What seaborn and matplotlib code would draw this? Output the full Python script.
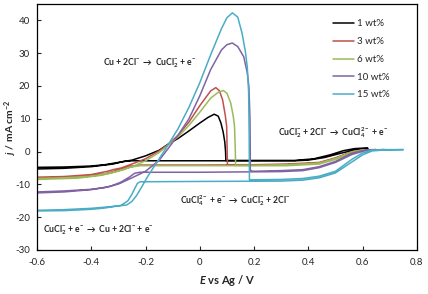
import pandas as pd
import matplotlib.pyplot as plt
import seaborn as sns

### cyclic voltammograms, 5 concentrations
labels = ['1 wt%', '3 wt%', '6 wt%', '10 wt%', '15 wt%']
colors = ['#000000', '#C0504D', '#9BBB59', '#8064A2', '#4BACC6']

# 1 wt%  (forward sweep, then back)
e_1 = [-0.6, -0.5, -0.4, -0.35, -0.3, -0.25, -0.2, -0.15, -0.116, -0.08, -0.04, 0.0, 0.03, 0.053,
       0.068, 0.078, 0.086, 0.092, 0.095, 0.096, 0.2, 0.35, 0.42, 0.48, 0.53, 0.57, 0.61,
       0.62, 0.57, 0.52, 0.46, 0.40, 0.35, 0.0, -0.25, -0.28, -0.32, -0.4, -0.5, -0.6]
j_1 = [-4.8, -4.7, -4.4, -4.0, -3.3, -2.6, -1.3, 0.4, 2.3, 4.0, 6.3, 8.7, 10.4, 11.4,
       10.8, 8.7, 6.0, 3.0, 0.0, -2.7, -2.7, -2.7, -2.2, -1.0, 0.3, 0.9, 1.1,
       1.0, 0.5, -0.5, -1.8, -2.6, -2.8, -2.8, -2.8, -3.0, -3.8, -4.6, -5.1, -5.3]

# 3 wt%
e_3 = [-0.6, -0.5, -0.4, -0.34, -0.32, -0.29, -0.25, -0.2, -0.15, -0.116, -0.08, -0.04, 0.0, 0.04,
       0.059, 0.072, 0.084, 0.094, 0.099, 0.101, 0.102, 0.2, 0.32, 0.44, 0.50, 0.56, 0.6, 0.65,
       0.6, 0.56, 0.5, 0.44, 0.32, 0.0, -0.22, -0.26, -0.3, -0.35, -0.45, -0.6]
j_3 = [-7.8, -7.6, -7.0, -6.0, -5.5, -5.0, -3.8, -2.2, 0.2, 2.2, 5.0, 9.0, 14.0, 18.5,
       19.5, 18.6, 15.8, 11.0, 7.7, 0.0, -4.0, -4.0, -3.8, -3.3, -1.9, 0.0, 0.5, 0.6,
       0.4, -0.2, -2.1, -3.5, -4.0, -4.1, -4.1, -4.5, -5.6, -6.8, -7.7, -8.1]

# 6 wt%
e_6 = [-0.6, -0.5, -0.4, -0.33, -0.28, -0.24, -0.2, -0.15, -0.116, -0.08, -0.04, 0.0, 0.04, 0.07,
       0.087, 0.1, 0.114, 0.123, 0.128, 0.131, 0.132, 0.2, 0.32, 0.44, 0.50, 0.56, 0.6, 0.65,
       0.6, 0.56, 0.5, 0.44, 0.32, 0.0, -0.22, -0.26, -0.3, -0.36, -0.45, -0.6]
j_6 = [-8.2, -8.0, -7.5, -6.6, -5.5, -4.3, -2.8, -0.3, 2.0, 4.5, 8.0, 12.0, 16.3, 18.2,
       18.6, 17.8, 14.8, 11.0, 7.7, 0.0, -4.2, -4.2, -4.0, -3.5, -2.1, -0.1, 0.5, 0.6,
       0.3, -0.4, -2.4, -3.8, -4.3, -4.3, -4.3, -4.8, -5.9, -7.2, -8.1, -8.5]

# 10 wt%
e_10 = [-0.6, -0.5, -0.4, -0.35, -0.3, -0.25, -0.2, -0.15, -0.116, -0.08, -0.04, 0.0, 0.04, 0.08,
        0.1, 0.12, 0.14, 0.162, 0.175, 0.181, 0.185, 0.186, 0.186, 0.19, 0.2, 0.3, 0.38, 0.44,
        0.50, 0.56, 0.61, 0.68,
        0.61, 0.56, 0.5, 0.44, 0.38, 0.3, 0.0, -0.22, -0.24, -0.26, -0.29, -0.33, -0.4, -0.5, -0.6]
j_10 = [-12.3, -12.0, -11.5, -11.0, -9.9, -8.0, -6.0, -2.7, 1.0, 5.0, 10.0, 17.0, 25.0, 31.0,
        32.6, 33.1, 32.0, 28.9, 24.0, 19.8, 10.0, 0.0, -5.5, -5.9, -6.0, -5.8, -5.5, -4.6,
        -3.0, -0.5, 0.5, 0.6,
        0.3, -0.9, -3.3, -4.9, -5.8, -6.1, -6.3, -6.3, -6.6, -7.8, -9.3, -10.6, -11.6, -12.3, -12.6]

# 15 wt%
e_15 = [-0.6, -0.5, -0.4, -0.33, -0.27, -0.25, -0.233, -0.21, -0.19, -0.16, -0.128, -0.1, -0.08,
        -0.04, 0.0, 0.04, 0.08, 0.1, 0.12, 0.14, 0.156, 0.168, 0.175, 0.18, 0.182, 0.183,
        0.3, 0.38, 0.44, 0.50, 0.56, 0.6, 0.635, 0.68, 0.75,
        0.68, 0.635, 0.6, 0.56, 0.5, 0.44, 0.38, 0.3, 0.0, -0.22, -0.23, -0.24, -0.25, -0.265,
        -0.29, -0.35, -0.4, -0.5, -0.6]
j_15 = [-17.9, -17.7, -17.3, -16.8, -16.3, -15.2, -13.4, -10.2, -7.3, -3.5, 0.6, 4.3, 7.0,
        13.5, 21.0, 29.5, 37.5, 40.8, 42.3, 41.0, 36.0, 30.5, 25.8, 18.0, 5.0, -8.6,
        -8.5, -8.2, -7.5, -6.0, -2.4, -0.4, 0.5, 0.6, 0.6,
        0.5, 0.2, -1.0, -3.2, -6.5, -8.0, -8.7, -9.0, -9.1, -9.2, -9.7, -11.3, -13.0, -15.0,
        -16.4, -17.2, -17.6, -18.0, -18.1]

sweeps = [(e_1, j_1), (e_3, j_3), (e_6, j_6), (e_10, j_10), (e_15, j_15)]
frames = []
for lab, (e, j) in zip(labels, sweeps):
    frames.append(pd.DataFrame({'E': e, 'j': j, 'conc': lab, 'step': range(len(e))}))
df = pd.concat(frames, ignore_index=True)

sns.set_style('ticks')
plt.rcParams['font.family'] = ['Lato', 'DejaVu Sans']
plt.rcParams['mathtext.fontset'] = 'custom'
plt.rcParams['mathtext.rm'] = 'Lato'
plt.rcParams['mathtext.it'] = 'Lato:italic:bold'
plt.rcParams['mathtext.bf'] = 'Lato:bold'
plt.rcParams['mathtext.default'] = 'regular'
plt.rcParams['axes.unicode_minus'] = False

fig = plt.figure(figsize=(4.28, 2.94), dpi=100)
ax = fig.add_axes([0.0864, 0.1497, 0.8876, 0.8367])

sns.lineplot(data=df, x='E', y='j', hue='conc', hue_order=labels, palette=colors,
             sort=False, estimator=None, units='conc', lw=1.1, ax=ax)

ax.set_xlim(-0.6, 0.8)
ax.set_ylim(-30, 45)
ax.set_xticks([-0.6, -0.4, -0.2, 0, 0.2, 0.4, 0.6, 0.8])
ax.set_xticklabels(['-0.6', '-0.4', '-0.2', '0', '0.2', '0.4', '0.6', '0.8'])
ax.set_yticks(range(-30, 41, 10))
ax.tick_params(direction='in', length=3, width=0.8, labelsize=7)
ax.tick_params(axis='x', pad=6)
ax.tick_params(axis='y', pad=5)
for s in ax.spines.values():
    s.set_linewidth(0.9)
    s.set_color('black')

ax.set_xlabel(r'$\mathit{E}$ vs Ag / V', fontsize=8, fontweight='bold', labelpad=4)
ax.set_ylabel(r'$\mathit{j}$ / mA cm$^{-2}$', fontsize=7.5, fontweight='bold', va='center')
ax.yaxis.set_label_coords(-0.068, 0.5)

## reaction labels
kw = dict(fontsize=6.2, fontweight='bold', ha='center', va='center')
ax.text(-0.185, 27, r'Cu + 2Cl$^{-}$ $\rightarrow$ CuCl$_2^{-}$ + e$^{-}$', **kw)
ax.text(0.49, 5.8, r'CuCl$_2^{-}$ + 2Cl$^{-}$ $\rightarrow$ CuCl$_4^{2-}$ + e$^{-}$', **kw)
ax.text(0.13, -15, r'CuCl$_4^{2-}$ + e$^{-}$ $\rightarrow$ CuCl$_2^{-}$ + 2Cl$^{-}$', **kw)
ax.text(-0.375, -24, r'CuCl$_2^{-}$ + e$^{-}$ $\rightarrow$ Cu + 2Cl$^{-}$ + e$^{-}$', **kw)

handles, labs = ax.get_legend_handles_labels()
ax.legend(handles, labs, loc='upper left', bbox_to_anchor=(0.78, 0.937), frameon=False,
          fontsize=7, handlelength=2.1, handletextpad=0.3, labelspacing=0.9,
          borderpad=0, borderaxespad=0)

fig.savefig('out.png', dpi=100)
